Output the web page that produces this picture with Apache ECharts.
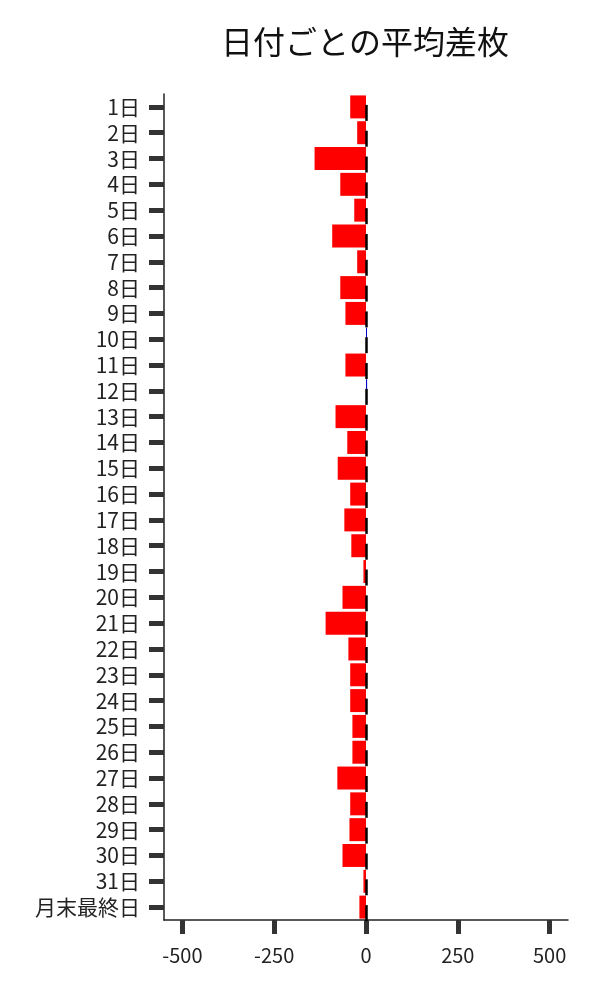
<!DOCTYPE html>
<html>
<head>
<meta charset="utf-8">
<script src="https://cdn.jsdelivr.net/npm/echarts@6/dist/echarts.min.js"></script>
<style>
  html, body { margin: 0; padding: 0; background: #fff; }
  #main { width: 600px; height: 1000px; }
</style>
</head>
<body>
<div id="main"></div>
<script>
// 日付ごとの平均差枚
const days = ['1日','2日','3日','4日','5日','6日','7日','8日','9日','10日',
  '11日','12日','13日','14日','15日','16日','17日','18日','19日','20日',
  '21日','22日','23日','24日','25日','26日','27日','28日','29日','30日',
  '31日','月末最終日'];
const avgDiff = [-43, -24, -140, -70, -32, -92, -24, -70, -56, 2,
  -56, 3, -83, -51, -77, -43, -59, -40, -7, -64,
  -110, -48, -43, -43, -37, -37, -78, -43, -45, -64,
  -7, -18];
const xTicks = [-500, -250, 0, 250, 500];

const font = '"Noto Sans CJK JP", "Noto Sans", sans-serif';
const myChart = echarts.init(document.getElementById('main'));

const option = {
  backgroundColor: '#fff',
  animation: false,
  title: {
    text: '日付ごとの平均差枚',
    left: 360,
    textAlign: 'center',
    top: 21,
    textStyle: { fontFamily: font, fontSize: 32, fontWeight: 'normal', color: '#111' }
  },
  grid: { left: 164, right: 32, top: 94, bottom: 80 },
  xAxis: {
    type: 'value',
    min: -550,
    max: 550,
    splitLine: { show: false },
    axisLine: { show: true, onZero: false, lineStyle: { color: '#222', width: 1.5 } },
    axisTick: { show: true, length: 14, customValues: xTicks, lineStyle: { color: '#333', width: 5 } },
    axisLabel: { customValues: xTicks, margin: 25, fontFamily: font, fontSize: 20, color: '#222' }
  },
  yAxis: {
    type: 'category',
    data: days,
    inverse: true,
    axisLine: { show: true, onZero: false, lineStyle: { color: '#222', width: 1.5 } },
    axisTick: { show: true, length: 15, alignWithLabel: true, interval: 0, lineStyle: { color: '#333', width: 5 } },
    axisLabel: { interval: 0, margin: 24, fontFamily: font, fontSize: 21, color: '#222' }
  },
  series: [
    {
      type: 'bar',
      data: avgDiff.map(v => ({
        value: v,
        itemStyle: { color: v < 0 ? '#ff0000' : '#0000cc' }
      })),
      barCategoryGap: '11%',
      barMinHeight: 1
    },
    {
      // 0付近の黒い短線
      type: 'custom',
      data: days.map((d, i) => [0, i]),
      encode: { x: 0, y: 1 },
      z: 5,
      renderItem: function (params, api) {
        const p = api.coord([0, api.value(1)]);
        return {
          type: 'line',
          shape: { x1: p[0] + 0.5, y1: p[1] - 2, x2: p[0] + 0.5, y2: p[1] + 14 },
          style: { stroke: '#000', lineWidth: 2.5 }
        };
      }
    }
  ]
};
myChart.setOption(option);
</script>
</body>
</html>
